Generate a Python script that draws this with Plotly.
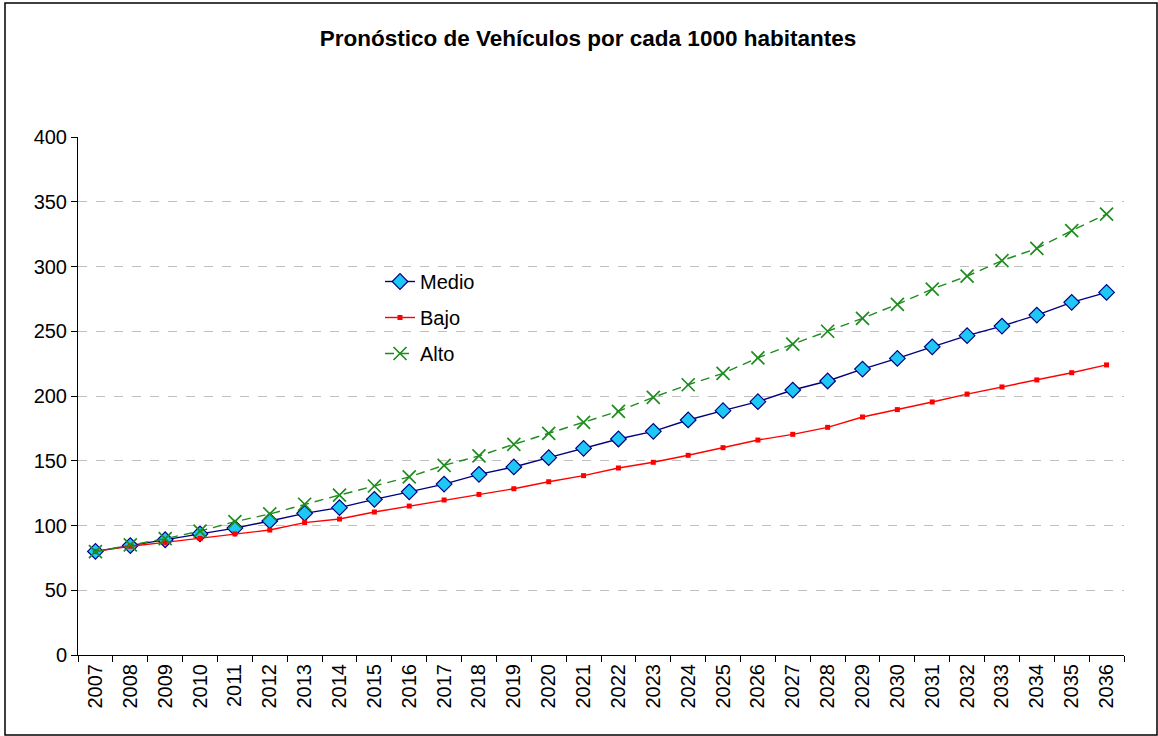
import plotly.graph_objects as go

years = [str(y) for y in range(2007, 2037)]

medio = [80, 84.5, 89, 93.5, 98, 103.5, 109.4, 113.8, 120.2, 126, 132, 139.5, 145.2, 152.4, 159.6,
         166.8, 172.7, 181.5, 188.7, 195.6, 204.6, 211.6, 220.8, 229, 238, 246.6, 254, 262.5, 272.3, 280]
bajo = [80, 84, 87, 90, 93.5, 96.5, 102.2, 105, 110.4, 115, 119.7, 124, 128.4, 133.8, 138.5,
        144.4, 148.8, 154.2, 160.1, 166, 170.4, 175.8, 183.8, 189.5, 195.4, 201.5, 207, 212.4, 218, 224]
alto = [79.8, 85, 89.8, 95.7, 103, 108.9, 116.4, 123.5, 130.5, 137.5, 146.5, 153.7, 162.7, 171.2, 179.7,
        188.2, 199, 208.7, 217.5, 229.5, 240, 250, 260, 270.8, 282.6, 292.5, 304.5, 314, 327.7, 340.5]

FONT = "Liberation Sans, Arial, sans-serif"

fig = go.Figure()
fig.add_trace(go.Scatter(
    x=years, y=medio, name="Medio", mode="lines+markers", legendgroup="m",
    line=dict(color="#000080", width=1.4),
    marker=dict(symbol="diamond", size=12, color="#1EC8F5", line=dict(color="#000080", width=1.2)),
))
fig.add_trace(go.Scatter(
    x=years, y=bajo, name="Bajo", mode="lines+markers", legendgroup="b",
    line=dict(color="#FF0000", width=1.4),
    marker=dict(symbol="square", size=5, color="#FF0000"),
))
fig.add_trace(go.Scatter(
    x=years, y=alto, name="Alto", mode="lines+markers", legendgroup="a",
    line=dict(color="#1E8C1E", width=1.4, dash="9px,6px"),
    marker=dict(symbol="x-thin-open", size=13, color="#1E8C1E", line=dict(color="#1E8C1E", width=1.7)),
))

fig.update_layout(
    width=1158, height=736,
    margin=dict(l=78, r=34, t=137, b=81),
    paper_bgcolor="white", plot_bgcolor="white",
    font=dict(family=FONT, size=20, color="black"),
    title=dict(text="<b>Pronóstico de Vehículos por cada 1000 habitantes</b>",
               x=588 / 1158, xanchor="center", xref="container",
               y=1 - 38 / 736, yanchor="middle", yref="container",
               font=dict(family=FONT, size=22.5, color="black")),
    legend=dict(x=(380 - 78) / 1046, y=(655 - 262) / 518, xanchor="left", yanchor="top",
                bgcolor="rgba(0,0,0,0)", font=dict(family=FONT, size=20),
                traceorder="grouped", tracegroupgap=7),
    showlegend=True,
)

fig.update_xaxes(
    type="category", tickson="boundaries", ticks="outside", ticklen=6, tickcolor="black",
    showline=True, linecolor="black", linewidth=1, showgrid=False,
    tickangle=-90, tickfont=dict(family=FONT, size=20), range=[-0.5, 29.5],
)
fig.update_yaxes(
    range=[0, 400], dtick=50, ticks="outside", ticklen=6, tickcolor="black",
    showline=True, linecolor="black", linewidth=1,
    showgrid=True, gridcolor="#C0C0C0", gridwidth=1, griddash="dash",
    zeroline=False, tickfont=dict(family=FONT, size=20),
)

fig.add_shape(type="rect", xref="paper", yref="paper",
              x0=(5 - 78) / 1046, x1=(1157 - 78) / 1046,
              y0=(655 - 735) / 518, y1=(655 - 3) / 518,
              line=dict(color="black", width=1.5), fillcolor="rgba(0,0,0,0)", layer="below")

fig.write_html("out.html", config={"displayModeBar": False},
               post_script="document.body.style.margin='0px';")
